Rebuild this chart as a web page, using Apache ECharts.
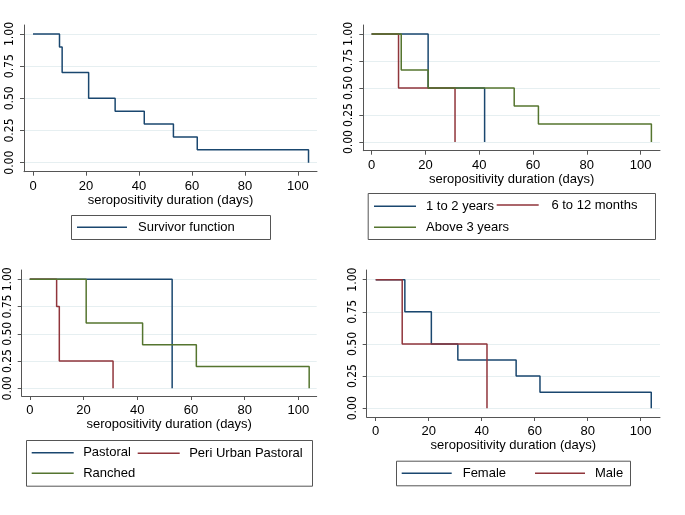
<!DOCTYPE html>
<html>
<head>
<meta charset="utf-8">
<script src="https://cdn.jsdelivr.net/npm/echarts@6/dist/echarts.min.js"></script>
<style>html,body{margin:0;padding:0;background:#fff}#c{width:685px;height:515px}</style>
</head>
<body>
<div id="c"></div>
<script>
// ---- data (Kaplan-Meier step estimates) ----
const xTicks = [0, 20, 40, 60, 80, 100];
const yTicks = [0, 0.25, 0.5, 0.75, 1];
const xTitle = 'seropositivity duration (days)';

// Panel 1
const allTimes = [0, 10, 11, 21, 31, 42, 53, 62, 104];
const allSurv  = [1, 0.9, 0.7, 0.5, 0.4, 0.3, 0.2, 0.1, 0];
// Panel 2 (age)
const age12Times = [0, 21, 42];
const age12Surv  = [1, 0.5, 0];
const age612Times = [0, 10, 31];
const age612Surv  = [1, 0.5, 0];
const age3Times = [0, 11, 21, 53, 62, 104];
const age3Surv  = [1, 0.667, 0.5, 0.333, 0.167, 0];
// Panel 3 (production system)
const pastTimes = [0, 53];
const pastSurv  = [1, 0];
const periTimes = [0, 10, 11, 31];
const periSurv  = [1, 0.75, 0.25, 0];
const ranchTimes = [0, 21, 42, 62, 104];
const ranchSurv  = [1, 0.6, 0.4, 0.2, 0];
// Panel 4 (sex)
const femTimes = [0, 11, 21, 31, 53, 62, 104];
const femSurv  = [1, 0.75, 0.5, 0.375, 0.25, 0.125, 0];
const maleTimes = [0, 10, 42];
const maleSurv  = [1, 0.5, 0];

// ---- styling ----
const NAVY = '#1a476f', MAROON = '#90353b', GREEN = '#55752f';
const AXIS = '#555555', GRIDC = '#e6eff1';
const FONT = '"Liberation Sans", Arial, sans-serif';
const NARROW = '"Liberation Sans Narrow", "DejaVu Sans Condensed", "Liberation Sans", sans-serif';

const zip = (t, s) => t.map((v, i) => [v, s[i]]);

const grids = [
  {left: 24,    top: 25,  width: 293,   height: 146.7, xmin: -3.4, xmax: 107.2, ymin: -0.07,  ymax: 1.07},
  {left: 363.3, top: 25,  width: 296.7, height: 125.7, xmin: -3.1, xmax: 107.2, ymin: -0.08,  ymax: 1.083},
  {left: 21.7,  top: 270, width: 295,   height: 126,   xmin: -3.0, xmax: 106.8, ymin: -0.07,  ymax: 1.085},
  {left: 366.7, top: 270, width: 293.3, height: 147,   xmin: -3.4, xmax: 107.3, ymin: -0.068, ymax: 1.075}
];

const option = {
  animation: false,
  backgroundColor: '#ffffff',
  textStyle: {fontFamily: FONT},
  grid: grids.map(g => ({left: g.left, top: g.top, width: g.width, height: g.height, containLabel: false})),
  xAxis: grids.map((g, i) => ({
    type: 'value', gridIndex: i, min: g.xmin, max: g.xmax,
    name: xTitle, nameLocation: 'middle', nameGap: 22,
    nameTextStyle: {fontSize: 13, color: '#000', fontFamily: FONT},
    axisLine: {show: true, onZero: false, lineStyle: {color: AXIS, width: 1}},
    axisTick: {show: true, length: 4, customValues: xTicks, lineStyle: {color: AXIS}},
    axisLabel: {customValues: xTicks, fontSize: 13, color: '#000', margin: 8, fontFamily: FONT},
    splitLine: {show: false}
  })),
  yAxis: grids.map((g, i) => ({
    type: 'value', gridIndex: i, min: g.ymin, max: g.ymax,
    axisLine: {show: true, onZero: false, lineStyle: {color: AXIS, width: 1}},
    axisTick: {show: true, length: 4, customValues: yTicks, lineStyle: {color: AXIS}},
    axisLabel: {customValues: yTicks, rotate: 90, fontSize: 12, color: '#000', margin: 8,
      fontFamily: NARROW, hideOverlap: false, formatter: v => v.toFixed(2)},
    splitLine: {show: true, lineStyle: {color: GRIDC, width: 1}}
  })),
  series: [],
  legend: [],
  graphic: []
};

function addSeries(name, t, s, color, gi) {
  option.series.push({
    name, type: 'line', step: 'end', xAxisIndex: gi, yAxisIndex: gi,
    data: zip(t, s), symbol: 'none', showSymbol: false,
    lineStyle: {color, width: 1.5}, itemStyle: {color}
  });
}
addSeries('Survivor function', allTimes, allSurv, NAVY, 0);
addSeries('1 to 2 years', age12Times, age12Surv, NAVY, 1);
addSeries('6 to 12 months', age612Times, age612Surv, MAROON, 1);
addSeries('Above 3 years', age3Times, age3Surv, GREEN, 1);
addSeries('Pastoral', pastTimes, pastSurv, NAVY, 2);
addSeries('Peri Urban Pastoral', periTimes, periSurv, MAROON, 2);
addSeries('Ranched', ranchTimes, ranchSurv, GREEN, 2);
addSeries('Female', femTimes, femSurv, NAVY, 3);
addSeries('Male', maleTimes, maleSurv, MAROON, 3);

function addLegend(name, x, cy, w, gap, color) {
  // thin horizontal line icon; tiny corner sub-paths fix the bounding box to w x 14
  const icon = 'path://M0,0L0.01,0L0,0.01Z M0,6.3L' + w + ',6.3L' + w + ',7.7L0,7.7Z M' + w + ',14L' + (w - 0.01) + ',14L' + w + ',13.99Z';
  option.legend.push({
    data: [{name, icon, itemStyle: {color, borderWidth: 0}}],
    left: x, top: cy - 7, padding: 0, itemWidth: w, itemHeight: 14,
    selectedMode: false,
    textStyle: {fontSize: 13, color: '#000', fontFamily: FONT, padding: [0, 0, 0, gap - 5]}
  });
}
addLegend('Survivor function', 77, 227.3, 50, 11, NAVY);
addLegend('1 to 2 years', 374, 206.3, 42, 10, NAVY);
addLegend('6 to 12 months', 496.7, 205, 42, 12.7, MAROON);
addLegend('Above 3 years', 374, 227.3, 42, 10, GREEN);
addLegend('Pastoral', 31.7, 452.7, 42, 9.5, NAVY);
addLegend('Peri Urban Pastoral', 137.7, 453.3, 42, 9.5, MAROON);
addLegend('Ranched', 31.7, 473.3, 42, 9.5, GREEN);
addLegend('Female', 401.7, 473.3, 50, 11, NAVY);
addLegend('Male', 535, 473.3, 50, 10, MAROON);

const boxes = [[71, 215, 199, 24], [367.7, 193, 287.3, 46], [26, 440, 286, 45.7], [396, 460.7, 234, 24.6]];
boxes.forEach(b => option.graphic.push({
  type: 'rect', shape: {x: b[0] + 0.5, y: b[1] + 0.5, width: b[2], height: b[3]},
  style: {fill: 'none', stroke: AXIS, lineWidth: 1}, z: -1, silent: true
}));

const chart = echarts.init(document.getElementById('c'), null, {renderer: 'canvas'});
chart.setOption(option);
</script>
</body>
</html>
